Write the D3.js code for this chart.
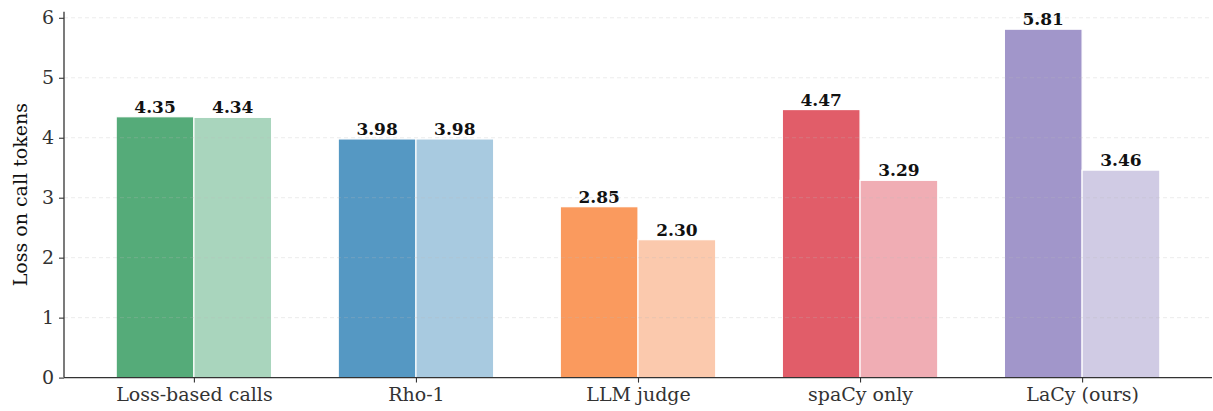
<!DOCTYPE html>
<html><head><meta charset="utf-8">
<script src="https://cdn.jsdelivr.net/npm/d3@7"></script>
<style>body{margin:0;background:#fff}svg{display:block}text{font-family:"DejaVu Serif",serif}</style>
</head><body><svg id="c" width="1213" height="411"></svg>
<script>
const categories = ["Loss-based calls","Rho-1","LLM judge","spaCy only","LaCy (ours)"];
const seriesA = [4.35, 3.98, 2.85, 4.47, 5.81];
const seriesB = [4.34, 3.98, 2.30, 3.29, 3.46];
const colorsA = ["#55ab79","#5598c3","#fa9a5e","#e15d69","#a196ca"];
const colorsB = ["#a9d5bd","#a8cae0","#fbc9ad","#f0adb4","#d0cbe4"];
const yTicks = [0,1,2,3,4,5,6];
const yLabel = "Loss on call tokens";

const svg = d3.select("#c");
const L = 64, R = 1212, T = 11.8, B = 377.6;
const barW = 0.35;
const x = d3.scaleLinear().domain([-0.585, 4.585]).range([L, R]);
const y = d3.scaleLinear().domain([0, 6.1]).range([B, T]);

const g = svg.append("g");
categories.forEach((c,i)=>{
  [[seriesA[i], colorsA[i], -barW], [seriesB[i], colorsB[i], 0]].forEach(([v,col,off])=>{
    g.append("rect").attr("x", x(i+off)).attr("width", x(barW)-x(0))
      .attr("y", y(v)).attr("height", y(0)-y(v))
      .attr("fill", col).attr("stroke","#fff").attr("stroke-width",1.2);
    g.append("text").attr("x", x(i+off+barW/2)).attr("y", y(v)-4)
      .attr("text-anchor","middle").attr("font-weight","bold").attr("font-size",17)
      .attr("fill","#111").text(v.toFixed(2));
  });
});
g.selectAll(".grid").data(yTicks.filter(d=>d>0)).enter().append("line")
  .attr("x1",L).attr("x2",R).attr("y1",d=>y(d)).attr("y2",d=>y(d))
  .attr("stroke","#bbb").attr("stroke-opacity",0.35).attr("stroke-dasharray","4,3").attr("stroke-width",0.8);

const ya = svg.append("g").attr("transform",`translate(${L},0)`)
  .call(d3.axisLeft(y).tickValues(yTicks).tickFormat(d3.format("d")).tickSize(5).tickPadding(5));
ya.select(".domain").attr("d",`M0,${T}V${B}`).attr("stroke","#333").attr("stroke-width",1.3);
ya.selectAll(".tick line").attr("stroke","#333").attr("stroke-width",1.1);
ya.selectAll(".tick text").attr("font-size",19).attr("fill","#333").attr("font-family","DejaVu Serif");

const xa = svg.append("g").attr("transform",`translate(0,${B})`)
  .call(d3.axisBottom(x).tickValues(d3.range(categories.length)).tickFormat(i=>categories[i]).tickSize(5).tickPadding(5));
xa.select(".domain").attr("d",`M${L},0H${R}`).attr("stroke","#333").attr("stroke-width",1.3);
xa.selectAll(".tick line").attr("stroke","#333").attr("stroke-width",1.1);
xa.selectAll(".tick text").attr("font-size",19).attr("fill","#333").attr("font-family","DejaVu Serif");

svg.append("text").attr("transform",`translate(27,${(T+B)/2}) rotate(-90)`)
  .attr("text-anchor","middle").attr("font-size",19).attr("fill","#111").text(yLabel);
</script></body></html>
